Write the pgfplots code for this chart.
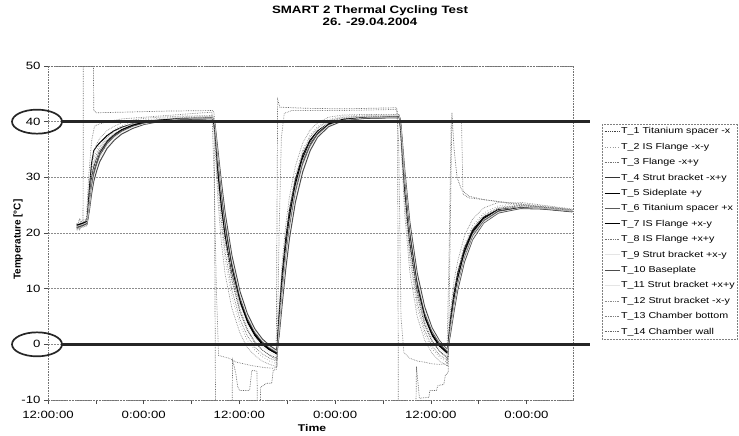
\documentclass[border=0pt]{standalone}
\usepackage{fontspec}
\setmainfont{Liberation Sans}[FakeStretch=1.25]
\newfontfamily\ylabfont{Liberation Sans}
\usepackage{pgfplots}
\pgfplotsset{compat=1.18}
\usepackage{pgfplotstable}

\pgfplotstableread{
t     T1    T2    T3    T4    T5    T6    T7    T8    T9    T10   T11   T12
3.9   20.8  20.5  21.0  21.3  21.5  21.2  21.4  21.1  21.6  21.0  21.2  20.6
4.6   21.2  21.0  21.3  21.6  21.8  21.5  21.7  21.4  21.9  21.3  21.5  21.0
5.3   21.6  21.4  21.8  22.0  22.3  21.9  22.1  21.9  22.3  21.7  21.9  21.3
5.6   25.0  26.5  24.5  25.5  28.0  25.0  26.0  26.0  25.8  24.0  24.5  27.5
5.9   28.5  31.0  28.0  29.0  32.5  28.3  29.8  30.0  29.3  27.0  27.8  32.0
6.2   30.8  33.5  30.5  31.2  34.8  30.6  31.8  32.5  31.5  29.3  30.0  34.5
6.6   32.6  35.0  32.3  32.9  35.6  32.4  33.3  34.2  33.2  31.2  31.9  36.0
7.0   34.2  36.0  33.8  34.4  36.2  34.0  34.7  35.4  34.7  32.8  33.4  37.0
8.0   36.3  37.6  36.0  36.4  37.5  36.1  36.6  37.2  36.7  35.2  35.7  38.4
9.0   37.6  38.6  37.3  37.6  38.4  37.4  37.8  38.3  37.9  36.7  37.1  39.2
10.0  38.5  39.3  38.3  38.5  39.0  38.3  38.6  39.0  38.8  37.8  38.1  39.8
11.5  39.4  39.9  39.2  39.3  39.6  39.2  39.4  39.7  39.6  38.8  39.0  40.3
13.0  39.9  40.3  39.8  39.8  40.0  39.7  39.9  40.1  40.1  39.5  39.6  40.6
15.0  40.3  40.6  40.2  40.2  40.3  40.1  40.2  40.4  40.5  40.0  40.1  40.8
18.0  40.7  40.9  40.6  40.5  40.5  40.5  40.5  40.7  40.8  40.4  40.5  41.0
22.3  40.9  41.0  40.8  40.6  40.6  40.6  40.6  40.8  40.9  40.5  40.6  41.1
22.6  38.8  37.5  39.0  39.3  38.5  39.5  39.0  38.0  39.4  39.8  39.6  36.5
23.0  31.0  28.0  32.0  33.0  31.0  33.8  32.2  29.5  32.8  35.0  34.3  26.0
23.5  24.0  20.5  25.0  26.5  24.5  27.3  25.8  22.0  26.0  29.0  28.0  18.0
24.0  18.5  15.0  19.5  21.1  19.5  21.8  20.6  16.5  20.5  23.5  22.6  12.5
24.9  11.5  8.5   12.3  13.9  13.0  14.6  13.6  9.8   13.2  16.0  15.2  6.5
26.0  5.8   3.5   6.3   7.9   7.5   8.4   7.7   4.5   7.2   9.5   8.9   2.0
27.0  2.5   0.7   2.8   4.3   4.0   4.7   4.2   1.5   3.6   5.5   5.0   -0.6
28.0  0.3   -1.0  0.5   1.9   1.6   2.2   1.8   -0.5  1.2   2.8   2.4   -2.0
29.0  -1.0  -2.2  -1.0  0.3   0.0   0.5   0.2   -1.7  -0.4  1.0   0.7   -3.0
30.0  -1.9  -3.0  -2.0  -0.8  -1.0  -0.6  -0.9  -2.5  -1.4  -0.2  -0.5  -3.6
31.0  -2.5  -3.5  -2.8  -1.5  -1.7  -1.4  -1.7  -3.0  -2.1  -1.1  -1.3  -4.0
31.3  3.0   4.5   2.0   3.8   5.5   3.0   4.5   4.0   3.4   1.5   2.2   6.0
31.7  10.0  12.5  8.8   10.3  12.5  9.4   11.2  11.5  10.0  7.0   8.3   14.5
32.2  16.8  19.5  15.5  16.8  19.0  16.0  17.8  18.5  16.6  13.5  15.0  21.5
32.7  22.0  24.8  20.8  22.0  24.0  21.2  23.0  23.8  21.9  19.0  20.3  26.5
33.5  28.3  30.5  27.0  28.1  29.5  27.4  28.8  29.8  28.1  25.5  26.7  32.0
34.5  33.3  35.0  32.3  33.0  34.0  32.5  33.5  34.5  33.1  31.0  32.0  36.2
35.5  36.4  37.6  35.6  36.0  36.7  35.7  36.3  37.2  36.2  34.8  35.3  38.5
36.5  38.3  39.1  37.7  37.9  38.3  37.7  38.1  38.8  38.1  37.2  37.5  39.8
38.0  39.9  40.4  39.5  39.5  39.7  39.4  39.6  40.2  39.8  39.1  39.3  40.8
40.0  40.7  41.0  40.5  40.4  40.4  40.3  40.4  40.8  40.7  40.2  40.3  41.2
43.0  41.0  41.2  40.9  40.7  40.7  40.7  40.7  41.0  41.0  40.6  40.7  41.3
47.6  41.0  41.2  41.0  40.8  40.8  40.8  40.8  41.0  41.1  40.7  40.8  41.3
47.8  38.0  37.0  38.5  38.8  38.0  39.0  38.5  37.5  38.9  39.5  39.3  36.0
48.3  27.5  25.5  28.5  29.3  28.0  30.0  28.8  26.5  29.0  31.5  30.8  23.5
49.0  17.5  15.0  18.5  19.6  18.5  20.3  19.2  16.0  19.0  22.0  21.2  13.0
50.0  8.8   6.5   9.5   10.6  10.0  11.2  10.4  7.5   10.0  12.8  12.0  5.0
51.0  3.5   1.8   4.0   5.1   4.8   5.6   5.0   2.5   4.5   6.8   6.2   0.8
52.0  0.5   -0.8  0.8   1.9   1.6   2.3   1.8   -0.3  1.3   3.0   2.7   -1.6
53.0  -1.2  -2.3  -1.2  -0.1  -0.3  0.2   -0.2  -1.9  -0.7  0.7   0.5   -3.0
54.1  -2.4  -3.3  -2.6  -1.4  -1.6  -1.3  -1.6  -2.9  -2.0  -1.0  -1.1  -3.9
54.5  3.0   5.0   2.0   3.3   4.5   2.8   3.8   4.2   3.0   1.8   2.3   6.0
55.0  8.0   10.0  6.8   7.9   9.3   7.3   8.5   9.0   7.6   6.0   6.6   11.5
55.5  11.8  13.5  10.5  11.5  12.8  11.0  12.0  12.7  11.3  9.8   10.3  15.0
56.4  16.6  18.0  15.5  16.2  17.2  15.8  16.7  17.4  16.0  14.8  15.2  19.5
57.5  20.3  21.3  19.5  19.8  20.5  19.5  20.2  20.8  19.7  18.8  19.0  22.5
59.0  22.9  23.6  22.3  22.4  22.8  22.2  22.6  23.2  22.4  21.8  21.9  24.5
61.0  24.4  24.9  24.0  24.0  24.2  23.9  24.1  24.6  24.1  23.6  23.7  25.5
64.0  24.9  25.3  24.7  24.6  24.6  24.5  24.6  25.0  24.7  24.4  24.5  25.5
67.0  24.6  24.9  24.5  24.4  24.4  24.4  24.4  24.7  24.5  24.3  24.4  25.0
71.0  24.0  24.2  24.0  23.9  23.9  23.9  23.9  24.1  24.0  23.8  23.9  24.3
}\sensors

\pgfplotstableread{
t     v
3.9   21.0
4.3   22.6
4.5   21.3
4.75  21.8
4.8   60
6.1   60
6.2   42.0
6.6   41.6
10.0  41.7
16.0  41.9
22.3  42.0
22.5  41.5
22.7  -15
24.9  -15
25.0  -2.8
25.4  -5.0
25.7  -7.7
26.0  -8.3
27.3  -8.3
27.6  -4.7
28.3  -4.8
28.4  -15
28.7  -15
28.8  -7.7
29.6  -7.0
30.3  -7.0
30.5  -4.7
30.9  -4.5
31.1  44.0
31.4  42.6
35.0  42.4
40.0  42.3
47.2  42.5
47.35 41.5
47.45 -15
49.8  -15
49.9  -4.0
50.3  -9.7
51.6  -9.5
51.7  -8.3
52.6  -8.3
52.8  -7.4
53.6  -7.2
53.8  -5.6
54.2  -5.0
54.7  41.6
55.0  35.0
55.4  30.0
56.0  27.8
57.0  26.6
59.0  26.0
62.0  25.5
66.0  24.9
71.0  24.2
}\chamberwall

\pgfplotstableread{
t     v
3.9   21.8
4.3   20.6
4.6   22.3
5.2   22.5
5.5   30.0
5.9   36.5
6.3   39.2
7.0   39.6
8.0   40.0
10.0  40.5
15.0  41.0
20.0  41.5
22.2  41.7
22.5  30.0
22.8  10.0
23.1  -2.0
24.5  -2.5
25.5  -3.2
26.5  -3.5
27.5  -3.8
28.5  -4.0
29.5  -4.2
30.5  -4.3
31.0  -4.0
31.3  20.0
31.6  37.0
32.0  41.5
33.0  42.0
40.0  42.0
47.2  42.2
47.5  36.0
47.8  5.0
48.2  -1.5
49.0  -2.5
50.0  -3.0
51.0  -3.2
52.0  -3.5
53.0  -3.6
54.0  -3.5
54.3  15.0
54.6  40.0
56.0  40.2
56.2  27.0
57.0  26.3
59.0  26.0
62.0  25.4
66.0  24.8
71.0  24.2
}\chamberbottom

\begin{document}
\begin{tikzpicture}
\useasboundingbox (0,0) rectangle (739bp,436bp);
\begin{axis}[
  at={(48bp,36bp)}, anchor=south west,
  scale only axis, width=525bp, height=334bp,
  xmin=0, xmax=71.1, ymin=-10, ymax=50,
  xtick={0,12.96,25.92,38.88,51.84,64.8},
  xticklabels={12:00:00,0:00:00,12:00:00,0:00:00,12:00:00,0:00:00},
  minor xtick={6.48,19.44,32.4,45.36,58.32},
  ytick={-10,0,10,20,30,40,50},
  tick align=outside, tick pos=left,
  major tick length=4bp, minor tick length=4bp,
  every tick/.style={black!70, line width=0.5bp},
  ymajorgrids, grid style={black!45, line width=0.5bp, densely dotted},
  axis line style={black!55, densely dotted, line width=0.6bp},
  tick label style={font=\fontsize{10.6}{12}\selectfont},
  xticklabel style={yshift=-4bp},
  /pgf/number format/assume math mode=true,
  title={SMART 2 Thermal Cycling Test\\26. -29.04.2004},
  title style={at={(0.6133,1.1317)}, anchor=center, align=center,
    font=\bfseries\fontsize{10.7}{11.8}\selectfont},
  xlabel={Time},
  xlabel style={at={(0.503,-0.0830)}, anchor=center, font=\bfseries\fontsize{9.8}{11}\selectfont},
  ylabel={Temperature [°C]},
  ylabel style={at={(-0.0571,0.48)}, anchor=center, font=\ylabfont\bfseries\fontsize{10}{11}\selectfont},
  legend style={at={(1.055,0.826)}, anchor=north west,
    draw=black!50, densely dotted, line width=0.5bp,
    font=\fontsize{8.6}{10}\selectfont,
    row sep=5.1bp, inner sep=2bp,
    nodes={inner sep=1bp, text height=6.5bp, text depth=1.8bp}},
  legend cell align=left,
  legend image code/.code={\draw[#1] (0bp,0bp) -- (15bp,0bp);},
]
\addplot[black!60, densely dotted, line width=0.7bp, forget plot] table[x=t,y=v]{\chamberwall};
\addplot[black!50, densely dotted, line width=0.7bp, forget plot] table[x=t,y=v]{\chamberbottom};
\addplot[black!75, densely dotted, line width=0.8bp] table[x=t,y=T1]{\sensors};
\addlegendentry{T\_1 Titanium spacer -x}
\addplot[black!40, dotted, line width=0.7bp] table[x=t,y=T2]{\sensors};
\addlegendentry{T\_2 IS Flange -x-y}
\addplot[black!55, densely dotted, line width=0.7bp] table[x=t,y=T3]{\sensors};
\addlegendentry{T\_3 Flange -x+y}
\addplot[black!80, solid, line width=0.9bp] table[x=t,y=T4]{\sensors};
\addlegendentry{T\_4 Strut bracket -x+y}
\addplot[black, solid, line width=1bp] table[x=t,y=T5]{\sensors};
\addlegendentry{T\_5 Sideplate +y}
\addplot[black!65, solid, line width=0.9bp] table[x=t,y=T6]{\sensors};
\addlegendentry{T\_6 Titanium spacer +x}
\addplot[black, solid, line width=1bp] table[x=t,y=T7]{\sensors};
\addlegendentry{T\_7 IS Flange +x-y}
\addplot[black!55, densely dotted, line width=0.7bp] table[x=t,y=T8]{\sensors};
\addlegendentry{T\_8 IS Flange +x+y}
\addplot[black!10, solid, line width=0.5bp] table[x=t,y=T9]{\sensors};
\addlegendentry{T\_9 Strut bracket +x-y}
\addplot[black!70, solid, line width=1bp] table[x=t,y=T10]{\sensors};
\addlegendentry{T\_10 Baseplate}
\addplot[black!10, solid, line width=0.5bp] table[x=t,y=T11]{\sensors};
\addlegendentry{T\_11 Strut bracket +x+y}
\addplot[black!45, densely dotted, line width=0.7bp] table[x=t,y=T12]{\sensors};
\addlegendentry{T\_12 Strut bracket -x-y}
\addlegendimage{black!50, densely dotted, line width=0.7bp}
\addlegendentry{T\_13 Chamber bottom}
\addlegendimage{black!60, densely dotted, line width=0.7bp}
\addlegendentry{T\_14 Chamber wall}
\coordinate (a40) at (axis cs:0,40);
\coordinate (a0) at (axis cs:0,0);
\end{axis}
\draw[black!85, line width=2.6bp] (a40) ++(14bp,0) -- ++(528bp,0);
\draw[black!85, line width=2.6bp] (a0) ++(14bp,0) -- ++(528bp,0);
\draw[black!85, line width=1.7bp] (a40) ++(-11bp,0) ellipse [x radius=25bp, y radius=12bp];
\draw[black!85, line width=1.7bp] (a0) ++(-11bp,0) ellipse [x radius=25bp, y radius=12bp];
\end{tikzpicture}
\end{document}
